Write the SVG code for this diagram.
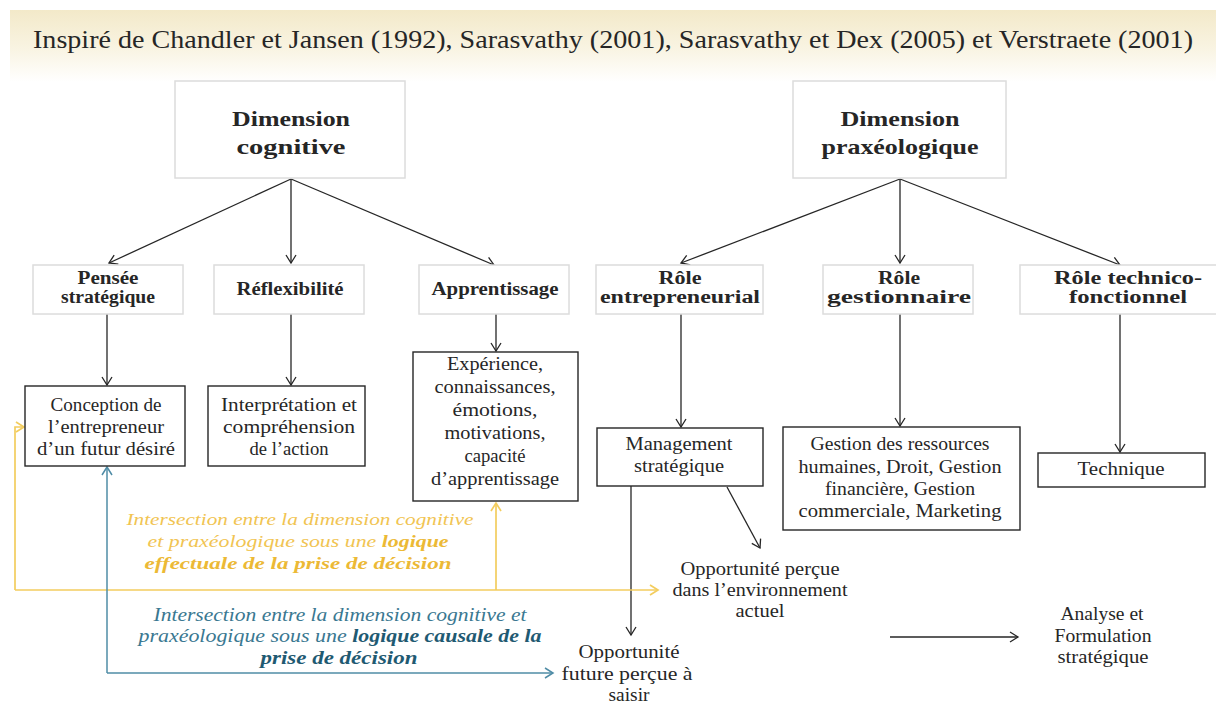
<svg xmlns="http://www.w3.org/2000/svg" width="1216" height="704" viewBox="0 0 1216 704">
  <style>
    .t { font-family: "Liberation Serif", "DejaVu Serif", serif; fill: #262626; text-anchor: middle; }
    .b { font-weight: bold; }
    .reg { font-size: 18.5px; }
    .lbl { font-size: 18.5px; font-weight: bold; }
    .hd { font-size: 21px; font-weight: bold; }
    .soft { fill: #ffffff; stroke: #dcdcdc; stroke-width: 1.5; }
    .box { fill: #ffffff; stroke: #262626; stroke-width: 1.4; }
    .conn { fill: none; stroke: #262626; stroke-width: 1.3; }
    .yl { fill: none; stroke: #f3cd5e; stroke-width: 1.7; }
    .bl { fill: none; stroke: #4f8ca6; stroke-width: 1.5; }
    .yt { font-family: "Liberation Serif", "DejaVu Serif", serif; font-style: italic; font-size: 17.5px; fill: #f1c452; text-anchor: middle; }
    .yt .b { fill: #ecb935; }
    .bt { font-family: "Liberation Serif", "DejaVu Serif", serif; font-style: italic; font-size: 18px; fill: #3a7891; text-anchor: middle; }
    .bt .b { fill: #1f5a72; }
  </style>
  <defs>
    <linearGradient id="banner" x1="0" y1="0" x2="0" y2="1">
      <stop offset="0" stop-color="#f3e9c9"/>
      <stop offset="0.55" stop-color="#f9f4e3"/>
      <stop offset="1" stop-color="#ffffff"/>
    </linearGradient>
    <marker id="ah" viewBox="0 0 8 10" refX="8" refY="5" markerWidth="8" markerHeight="10" markerUnits="userSpaceOnUse" orient="auto" overflow="visible">
      <path d="M0,0 L8,5 L0,10" fill="none" stroke="#262626" stroke-width="1.3"/>
    </marker>
    <marker id="ahy" viewBox="0 0 8 10" refX="8" refY="5" markerWidth="8" markerHeight="10" markerUnits="userSpaceOnUse" orient="auto" overflow="visible">
      <path d="M0,0 L8,5 L0,10" fill="none" stroke="#f3cd5e" stroke-width="1.7"/>
    </marker>
    <marker id="ahb" viewBox="0 0 8 10" refX="8" refY="5" markerWidth="8" markerHeight="10" markerUnits="userSpaceOnUse" orient="auto" overflow="visible">
      <path d="M0,0 L8,5 L0,10" fill="none" stroke="#4f8ca6" stroke-width="1.5"/>
    </marker>
  </defs>

  <rect width="1216" height="704" fill="#ffffff"/>

  <!-- title banner -->
  <g id="title">
    <rect x="10" y="10" width="1206" height="72" fill="url(#banner)"/>
    <text class="t" x="33" y="48" font-size="26" style="text-anchor:start" textLength="1160" lengthAdjust="spacingAndGlyphs">Inspiré de Chandler et Jansen (1992), Sarasvathy (2001), Sarasvathy et Dex (2005) et Verstraete (2001)</text>
  </g>

  <!-- connectors -->
  <g id="connectors">
    <g marker-end="url(#ah)" class="conn">
      <line x1="291" y1="179" x2="109" y2="263"/>
      <line x1="291" y1="179" x2="291" y2="263"/>
      <line x1="291" y1="179" x2="494" y2="265"/>
      <line x1="900" y1="179" x2="681" y2="263"/>
      <line x1="900" y1="179" x2="900" y2="263"/>
      <line x1="900" y1="179" x2="1120" y2="265"/>
      <line x1="107" y1="314" x2="107" y2="385"/>
      <line x1="291" y1="314" x2="291" y2="385"/>
      <line x1="496" y1="314" x2="496" y2="351"/>
      <line x1="681" y1="314" x2="681" y2="427"/>
      <line x1="900" y1="314" x2="900" y2="426"/>
      <line x1="1120" y1="314" x2="1120" y2="452"/>
      <line x1="631" y1="486" x2="631" y2="635"/>
      <line x1="727" y1="487" x2="760" y2="548"/>
      <line x1="890" y1="637" x2="1018" y2="637"/>
    </g>
    <g class="yl" marker-end="url(#ahy)">
      <path d="M15,590 H658"/>
      <path d="M15,590 V427 H24"/>
      <path d="M496,590 V503"/>
    </g>
    <g class="bl" marker-end="url(#ahb)">
      <path d="M107,673 V467"/>
      <path d="M107,673 H553"/>
    </g>
  </g>

  <!-- top level dimensions -->
  <g id="dim-cognitive">
    <rect class="soft" x="175" y="81" width="230" height="97"/>
    <text class="t hd" x="291" y="126" textLength="118" lengthAdjust="spacingAndGlyphs">Dimension</text>
    <text class="t hd" x="291" y="154" textLength="109" lengthAdjust="spacingAndGlyphs">cognitive</text>
  </g>
  <g id="dim-praxeologique">
    <rect class="soft" x="793" y="81" width="213" height="97"/>
    <text class="t hd" x="900" y="126" textLength="119" lengthAdjust="spacingAndGlyphs">Dimension</text>
    <text class="t hd" x="900" y="154" textLength="157" lengthAdjust="spacingAndGlyphs">praxéologique</text>
  </g>

  <!-- second level -->
  <g id="pensee">
    <rect class="soft" x="33" y="265" width="150" height="49"/>
    <text class="t lbl" x="108" y="284" textLength="61" lengthAdjust="spacingAndGlyphs">Pensée</text>
    <text class="t lbl" x="108" y="303" textLength="94" lengthAdjust="spacingAndGlyphs">stratégique</text>
  </g>
  <g id="reflexibilite">
    <rect class="soft" x="214" y="265" width="150" height="49"/>
    <text class="t lbl" x="290" y="295" textLength="107" lengthAdjust="spacingAndGlyphs">Réflexibilité</text>
  </g>
  <g id="apprentissage">
    <rect class="soft" x="419" y="265" width="150" height="49"/>
    <text class="t lbl" x="495" y="295" textLength="127" lengthAdjust="spacingAndGlyphs">Apprentissage</text>
  </g>
  <g id="role-entrepreneurial">
    <rect class="soft" x="596" y="265" width="167" height="49"/>
    <text class="t lbl" x="680" y="284" textLength="43" lengthAdjust="spacingAndGlyphs">Rôle</text>
    <text class="t lbl" x="680" y="303" textLength="160" lengthAdjust="spacingAndGlyphs">entrepreneurial</text>
  </g>
  <g id="role-gestionnaire">
    <rect class="soft" x="823" y="265" width="150" height="49"/>
    <text class="t lbl" x="899" y="284" textLength="42" lengthAdjust="spacingAndGlyphs">Rôle</text>
    <text class="t lbl" x="899" y="303" textLength="144" lengthAdjust="spacingAndGlyphs">gestionnaire</text>
  </g>
  <g id="role-technico">
    <rect class="soft" x="1020" y="265" width="210" height="49"/>
    <text class="t lbl" x="1128" y="284" textLength="148" lengthAdjust="spacingAndGlyphs">Rôle technico-</text>
    <text class="t lbl" x="1128" y="303" textLength="118" lengthAdjust="spacingAndGlyphs">fonctionnel</text>
  </g>

  <!-- third level -->
  <g id="conception">
    <rect class="box" x="25" y="386" width="160" height="80"/>
    <text class="t reg" x="106" y="411" textLength="111" lengthAdjust="spacingAndGlyphs">Conception de</text>
    <text class="t reg" x="106" y="433" textLength="116" lengthAdjust="spacingAndGlyphs">l’entrepreneur</text>
    <text class="t reg" x="106" y="455" textLength="138" lengthAdjust="spacingAndGlyphs">d’un futur désiré</text>
  </g>
  <g id="interpretation">
    <rect class="box" x="208" y="386" width="157" height="80"/>
    <text class="t reg" x="289" y="411" textLength="136" lengthAdjust="spacingAndGlyphs">Interprétation et</text>
    <text class="t reg" x="289" y="433" textLength="132" lengthAdjust="spacingAndGlyphs">compréhension</text>
    <text class="t reg" x="289" y="455" textLength="79" lengthAdjust="spacingAndGlyphs">de l’action</text>
  </g>
  <g id="experience">
    <rect class="box" x="413" y="352" width="165" height="149"/>
    <text class="t reg" x="495" y="370" textLength="96" lengthAdjust="spacingAndGlyphs">Expérience,</text>
    <text class="t reg" x="495" y="393" textLength="121" lengthAdjust="spacingAndGlyphs">connaissances,</text>
    <text class="t reg" x="495" y="416" textLength="85" lengthAdjust="spacingAndGlyphs">émotions,</text>
    <text class="t reg" x="495" y="439" textLength="101" lengthAdjust="spacingAndGlyphs">motivations,</text>
    <text class="t reg" x="495" y="462" textLength="61" lengthAdjust="spacingAndGlyphs">capacité</text>
    <text class="t reg" x="495" y="485" textLength="128" lengthAdjust="spacingAndGlyphs">d’apprentissage</text>
  </g>
  <g id="management">
    <rect class="box" x="597" y="428" width="166" height="58"/>
    <text class="t reg" x="679" y="450" textLength="107" lengthAdjust="spacingAndGlyphs">Management</text>
    <text class="t reg" x="679" y="472" textLength="90" lengthAdjust="spacingAndGlyphs">stratégique</text>
  </g>
  <g id="gestion">
    <rect class="box" x="783" y="427" width="237" height="103"/>
    <text class="t reg" x="900" y="450" textLength="179" lengthAdjust="spacingAndGlyphs">Gestion des ressources</text>
    <text class="t reg" x="900" y="473" textLength="203" lengthAdjust="spacingAndGlyphs">humaines, Droit, Gestion</text>
    <text class="t reg" x="900" y="495" textLength="150" lengthAdjust="spacingAndGlyphs">financière, Gestion</text>
    <text class="t reg" x="900" y="517" textLength="203" lengthAdjust="spacingAndGlyphs">commerciale, Marketing</text>
  </g>
  <g id="technique">
    <rect class="box" x="1038" y="453" width="167" height="34"/>
    <text class="t reg" x="1121" y="475" textLength="87" lengthAdjust="spacingAndGlyphs">Technique</text>
  </g>

  <!-- outcomes -->
  <g id="opportunite-actuelle">
    <text class="t reg" x="760" y="575" textLength="159" lengthAdjust="spacingAndGlyphs">Opportunité perçue</text>
    <text class="t reg" x="760" y="596" textLength="175" lengthAdjust="spacingAndGlyphs">dans l’environnement</text>
    <text class="t reg" x="760" y="617" textLength="49" lengthAdjust="spacingAndGlyphs">actuel</text>
  </g>
  <g id="opportunite-future">
    <text class="t reg" x="629" y="658" textLength="101" lengthAdjust="spacingAndGlyphs">Opportunité</text>
    <text class="t reg" x="627" y="680" textLength="131" lengthAdjust="spacingAndGlyphs">future perçue à</text>
    <text class="t reg" x="629" y="701" textLength="41" lengthAdjust="spacingAndGlyphs">saisir</text>
  </g>
  <g id="analyse">
    <text class="t reg" x="1102" y="620" textLength="83" lengthAdjust="spacingAndGlyphs">Analyse et</text>
    <text class="t reg" x="1103" y="642" textLength="97" lengthAdjust="spacingAndGlyphs">Formulation</text>
    <text class="t reg" x="1103" y="663" textLength="91" lengthAdjust="spacingAndGlyphs">stratégique</text>
  </g>

  <!-- intersection captions -->
  <g id="logique-effectuale">
    <text class="yt" x="300" y="525" textLength="347" lengthAdjust="spacingAndGlyphs">Intersection entre la dimension cognitive</text>
    <text class="yt" x="298" y="547" textLength="301" lengthAdjust="spacingAndGlyphs">et praxéologique sous une <tspan class="b">logique</tspan></text>
    <text class="yt" x="298" y="569" textLength="307" lengthAdjust="spacingAndGlyphs"><tspan class="b">effectuale de la prise de décision</tspan></text>
  </g>
  <g id="logique-causale">
    <text class="bt" x="340" y="621" textLength="373" lengthAdjust="spacingAndGlyphs">Intersection entre la dimension cognitive et</text>
    <text class="bt" x="340" y="642" textLength="403" lengthAdjust="spacingAndGlyphs">praxéologique sous une <tspan class="b">logique causale de la</tspan></text>
    <text class="bt" x="339" y="664" textLength="157" lengthAdjust="spacingAndGlyphs"><tspan class="b">prise de décision</tspan></text>
  </g>
</svg>
